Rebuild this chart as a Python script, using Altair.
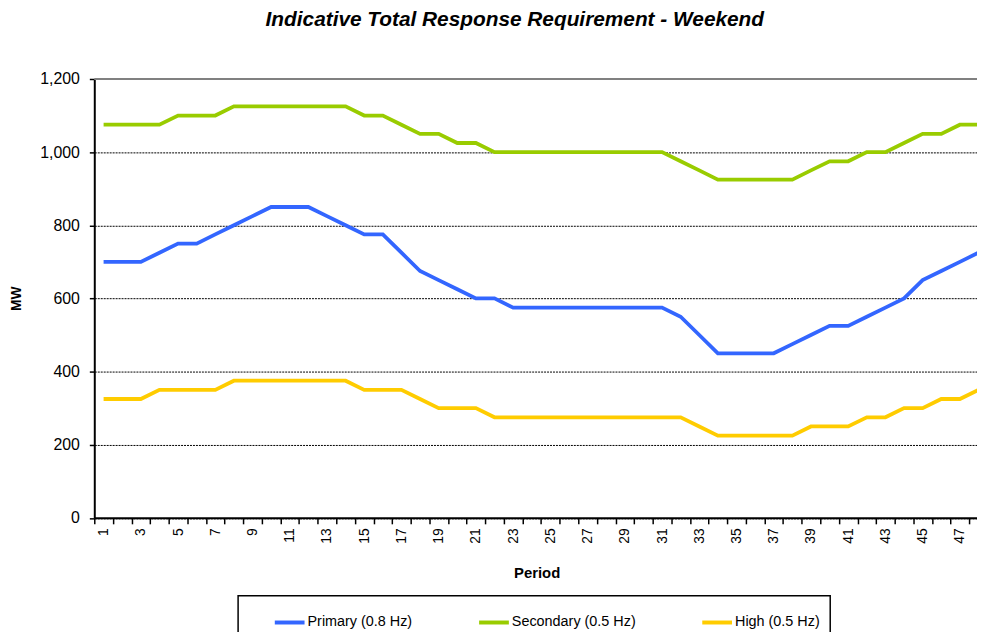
import altair as alt
import pandas as pd

periods = list(range(1, 49))
primary = [700, 700, 700, 725, 750, 750, 775, 800, 825, 850, 850, 850,
           825, 800, 775, 775, 725, 675, 650, 625, 600, 600, 575, 575,
           575, 575, 575, 575, 575, 575, 575, 550, 500, 450, 450, 450,
           450, 475, 500, 525, 525, 550, 575, 600, 650, 675, 700, 725]
secondary = [1075, 1075, 1075, 1075, 1100, 1100, 1100, 1125, 1125, 1125, 1125, 1125,
             1125, 1125, 1100, 1100, 1075, 1050, 1050, 1025, 1025, 1000, 1000, 1000,
             1000, 1000, 1000, 1000, 1000, 1000, 1000, 975, 950, 925, 925, 925,
             925, 925, 950, 975, 975, 1000, 1000, 1025, 1050, 1050, 1075, 1075]
high = [325, 325, 325, 350, 350, 350, 350, 375, 375, 375, 375, 375,
        375, 375, 350, 350, 350, 325, 300, 300, 300, 275, 275, 275,
        275, 275, 275, 275, 275, 275, 275, 275, 250, 225, 225, 225,
        225, 225, 250, 250, 250, 275, 275, 300, 300, 325, 325, 350]

series_names = ["Primary (0.8 Hz)", "Secondary (0.5 Hz)", "High (0.5 Hz)"]
series_colors = ["#3366FF", "#99CC00", "#FFCC00"]
y_ticks = [0, 200, 400, 600, 800, 1000, 1200]
x_bounds = [p - 0.5 for p in periods]
x_domain = [0.5, 47.92]

rows = []
for name, vals in zip(series_names, [primary, secondary, high]):
    for p, v in zip(periods, vals):
        rows.append({"Period": p, "MW": v, "Series": name})
df = pd.DataFrame(rows)

FONT = "Liberation Sans"
half_band = 890 / (x_domain[1] - x_domain[0]) / 2

lines = alt.Chart(df).mark_line(strokeWidth=3.8, clip=True).encode(
    x=alt.X("Period:Q",
            scale=alt.Scale(domain=x_domain, nice=False, zero=False),
            axis=alt.Axis(values=x_bounds,
                          labelExpr="((datum.value + 0.5) % 2 == 1) ? format(datum.value + 0.5, 'd') : ''",
                          labelAngle=270, labelOffset=half_band,
                          labelOverlap=False, labelFlush=False, labelBound=False,
                          labelFontSize=14, labelFont=FONT, labelColor="black",
                          labelPadding=4,
                          tickSize=6, tickWidth=1.5, tickColor="black",
                          domainColor="black", domainWidth=2,
                          grid=False,
                          title="Period", titleFont=FONT, titleFontSize=15,
                          titleFontWeight="bold", titleColor="black",
                          titleX=446, titleY=55, titleBaseline="middle",
                          titleAlign="center")),
    y=alt.Y("MW:Q",
            scale=alt.Scale(domain=[0, 1200], nice=False),
            axis=alt.Axis(values=y_ticks, format=",.0f",
                          labelFontSize=16, labelFont=FONT, labelColor="black",
                          labelPadding=10,
                          tickSize=5, tickWidth=1.5, tickColor="black",
                          domainColor="black", domainWidth=2,
                          grid=True, gridColor="black", gridDash=[2, 1],
                          gridWidth=1,
                          title="MW", titleFont=FONT, titleFontSize=14,
                          titleFontWeight="bold", titleColor="black",
                          titleX=-78, titleY=221, titleAngle=270,
                          titleBaseline="middle", titleAlign="center")),
    color=alt.Color("Series:N",
                    scale=alt.Scale(domain=series_names, range=series_colors),
                    sort=series_names,
                    legend=alt.Legend(orient="none", legendX=145, legendY=521,
                                      direction="horizontal", columns=3,
                                      title=None, strokeColor="black",
                                      padding=10, symbolType="stroke",
                                      symbolSize=900, symbolStrokeWidth=4,
                                      symbolOffset=25, labelOffset=1,
                                      labelFont=FONT, labelFontSize=14.5,
                                      labelColor="black", columnPadding=40)),
)

top_border = alt.Chart(pd.DataFrame({"MW": [1200]})).mark_rule(
    color="#808080", strokeWidth=2).encode(y=alt.Y("MW:Q"))

chart = alt.layer(lines, top_border).properties(
    width=890,
    height=442.5,
    title=alt.TitleParams(text="Indicative Total Response Requirement - Weekend",
                          font=FONT, fontSize=21, fontStyle="italic",
                          fontWeight="bold", color="black", anchor="middle",
                          frame="group", dx=-21, offset=24,
                          baseline="alphabetic"),
    autosize=alt.AutoSizeParams(type="none"),
    padding={"left": 87, "top": 69, "right": 0, "bottom": 113},
).configure_view(stroke=None).configure_legend(strokeWidth=1.5)

chart.save("out.html", embed_options={"renderer": "svg", "actions": False})
